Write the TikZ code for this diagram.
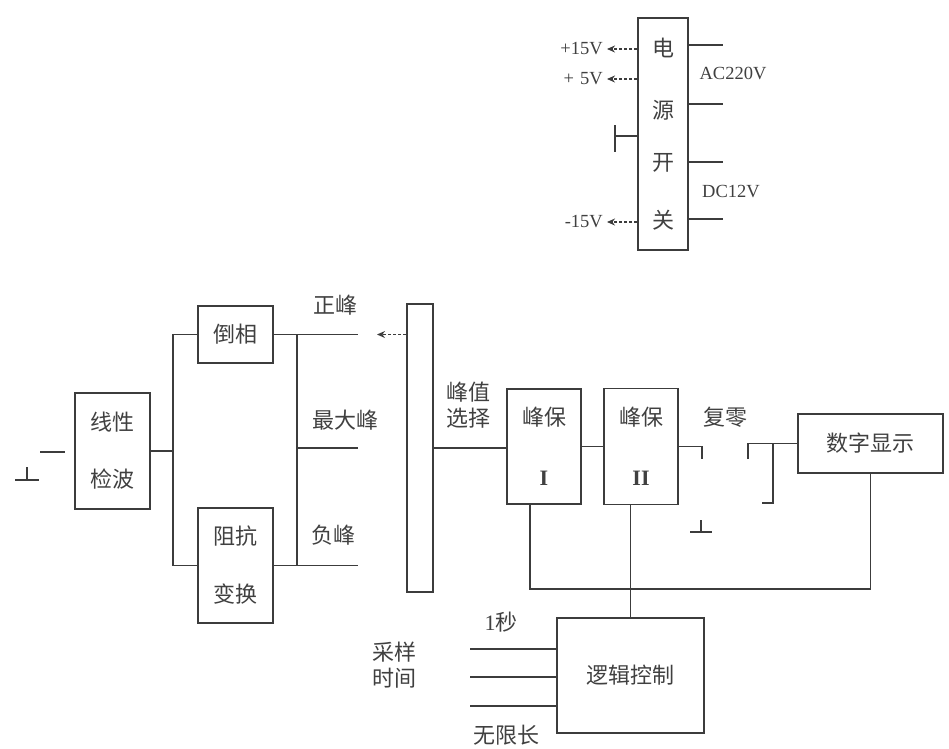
\documentclass[tikz,border=0pt]{standalone}
\usepackage{fontspec}
\setmainfont{Liberation Serif}
\newfontfamily\cjk{Noto Sans CJK SC}
\usetikzlibrary{arrows.meta}
\tikzset{every node/.style={font=\cjk\fontsize{22}{26}\selectfont, text=black!75}}
\definecolor{ink}{HTML}{3C3C3C}

\begin{document}
\begin{tikzpicture}[x=1pt, y=-1pt, color=ink, line width=1.8pt,
    blk/.style={draw, inner sep=0pt, align=center},
    volt/.style={font=\rmfamily\fontsize{18.5}{20}\selectfont},
    dasharr/.style={line width=1.4pt, dash pattern=on 3pt off 2pt, -{Stealth[length=8pt, width=7pt]}}]
  \useasboundingbox (0,0) rectangle (949,748);

  % power switch
  \node[blk, minimum width=50pt, minimum height=232pt] (psw) at (663,134) {};
  \foreach \t/\y [count=\i] in {电/48, 源/110, 开/163, 关/220}
    \node (ps\i) at (663,\y) {\t};
  \node[volt, anchor=east] (v15) at (607,49) {+15V};
  \node[volt, anchor=east] (v5) at (607,79) {+\,\,5V};
  \node[volt, anchor=east] (vm15) at (607,222) {-15V};
  \foreach \v in {v15, v5, vm15}
    \draw[dasharr] (psw.west |- \v.east) -- (\v.east);
  \coordinate (pg) at (615,136);
  \draw (psw.west |- pg) -- (pg);
  \draw ([yshift=11pt]pg) -- ([yshift=-16pt]pg);
  \foreach \y [count=\i] in {45, 104, 162, 219} {
    \coordinate (pr\i) at (723,\y);
    \draw (psw.east |- pr\i) -- (pr\i);
  }
  \node[volt] (ac) at (733,73) {AC220V};
  \node[volt] (dc) at (731,192) {DC12V};

  % detector and phase split
  \coordinate (g0) at (27,480);
  \draw (g0) -- ++(0,-13) (g0) ++(-12,0) -- ++(24,0);
  \coordinate (in0) at (40,452);
  \draw (in0) -- ++(25,0);
  \node[blk, minimum width=75pt, minimum height=116pt] (lin) at (112.5,451) {线性\\[31pt]检波};
  \node[blk, minimum width=75pt, minimum height=57pt] (inv) at (235.5,334.5) {倒相};
  \node[blk, minimum width=75pt, minimum height=115pt] (imp) at (235.5,565.5) {阻抗\\[32pt]变换};
  \coordinate (busL) at (173,451);
  \coordinate (busR) at (297,451);
  \draw (lin.east) -- (busL);
  \draw (inv.west) -| (busL) |- (imp.west);
  \draw (inv.east -| busR) -- (imp.east -| busR);
  \coordinate (pk1) at (358,334.5);
  \coordinate (pk2) at (358,448);
  \coordinate (pk3) at (358,565.5);
  \draw (inv.east) -- (pk1);
  \draw (busR |- pk2) -- (pk2);
  \draw (imp.east) -- (pk3);
  \node (l1) at (335,305) {正峰};
  \node (l2) at (345,420) {最大峰};
  \node (l3) at (333,535) {负峰};

  % peak select and hold
  \node[blk, minimum width=26pt, minimum height=288pt] (sel) at (420,448) {};
  \coordinate (ptip) at (377,334.5);
  \draw[dasharr] (sel.west |- ptip) -- (ptip);
  \node[align=center] (selt) at (468,405) {峰值\\选择};
  \node[blk, minimum width=74pt, minimum height=115pt] (hold1) at (544,446.5) {峰保\\[34pt]{\rmfamily\bfseries I}};
  \node[blk, minimum width=74pt, minimum height=116pt] (hold2) at (641,446.5) {峰保\\[34pt]{\rmfamily\bfseries II}};
  \draw (sel.east) -- (sel.east -| hold1.west);
  \draw (hold1.east) -- (hold2.west);

  % reset switch and display
  \node[blk, minimum width=145pt, minimum height=59pt] (disp) at (870.5,443.5) {数字显示};
  \coordinate (sw1) at (702,459);
  \coordinate (sw2) at (748,459);
  \coordinate (swj) at (773,443.5);
  \coordinate (sw3) at (762,503);
  \draw (hold2.east) -| (sw1);
  \draw (sw2) |- (swj);
  \draw (disp.west) -- (swj) |- (sw3);
  \coordinate (g1) at (701,532);
  \draw (g1) -- ++(0,-12) (g1) ++(-11,0) -- ++(22,0);
  \node (rz) at (725,417) {复零};
  \draw ([xshift=-14pt]hold1.south) -- ++(0,84) -| (disp.south);

  % logic control
  \node[blk, minimum width=147pt, minimum height=115pt] (logic) at (630.5,675.5) {逻辑控制};
  \draw (logic.north) -- (logic.north |- hold2.south);
  \foreach \y [count=\i] in {649, 677, 706} {
    \coordinate (t\i) at (470,\y);
    \draw (t\i) -- (t\i -| logic.west);
  }
  \node (one) at (501,622) {{\rmfamily 1}秒};
  \node[align=center] (smp) at (394,665) {采样\\时间};
  \node (inf) at (506,735) {无限长};
\end{tikzpicture}
\end{document}
